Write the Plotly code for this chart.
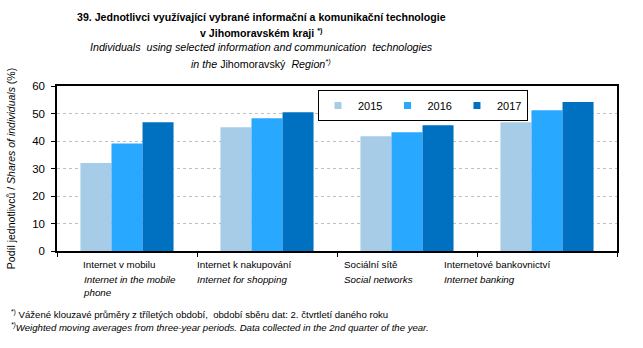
import plotly.graph_objects as go

categories = ["Internet v mobilu", "Internet k nakupování", "Sociální sítě", "Internetové bankovnictví"]
categories_en = ["Internet in the mobile<br>phone", "Internet for shopping", "Social networks", "Internet banking"]
years = ["2015", "2016", "2017"]
v2015 = [32, 45, 41.7, 46.8]
v2016 = [39.1, 48.3, 43.2, 51.2]
v2017 = [46.8, 50.5, 45.7, 54.2]
y_ticks = [0, 10, 20, 30, 40, 50, 60]

colors = ["#A6CCE8", "#29A8FF", "#0070C0"]
FONT = "Liberation Sans, Arial, sans-serif"

fig = go.Figure()
for name, vals, c in zip(years, [v2015, v2016, v2017], colors):
    fig.add_trace(go.Bar(x=categories, y=vals, name=name, showlegend=False, legendgroup=name,
                         marker=dict(color=c, line=dict(width=0))))
# legend entries with small square swatches (linked to the bars)
for name, c in zip(years, colors):
    fig.add_trace(go.Scatter(x=[None], y=[None], mode="markers", name=name, legendgroup=name,
                             marker=dict(symbol="square", size=7, color=c)))

label_shift = [-46, -72, -65, -105]
for cat, en, sh in zip(categories, categories_en, label_shift):
    fig.add_annotation(x=cat, xref="x", y=0, yref="paper", yanchor="top", xanchor="left",
                       xshift=sh, yshift=-6, text=cat, showarrow=False, align="left",
                       font=dict(family=FONT, size=9.8, color="#000"))
    fig.add_annotation(x=cat, xref="x", y=0, yref="paper", yanchor="top", xanchor="left",
                       xshift=sh, yshift=-21, text="<i>" + en + "</i>", showarrow=False, align="left",
                       font=dict(family=FONT, size=9.8, color="#000"))

title_lines = [
    ("<b>39. Jednotlivci využívající vybrané informační a komunikační technologie</b>", 17, 10.6),
    ("<b>v Jihomoravském kraji <sup>*)</sup></b>", 32, 10.6),
    ("<i>Individuals  using selected information and communication  technologies</i>", 47, 10.7),
    ("<i>in the</i> Jihomoravský  <i>Region<sup>*)</sup></i>", 63, 10.7),
]
for txt, ypx, fs in title_lines:
    fig.add_annotation(x=(261 - 57) / 560, xref="paper", y=1 + (86 - ypx) / 165, yref="paper",
                       xanchor="center", yanchor="middle", text=txt, showarrow=False,
                       font=dict(family=FONT, size=fs, color="#000"))

foot = [
    ("<sup>*)</sup> Vážené klouzavé průměry z tříletých období,  období sběru dat: 2. čtvrtletí daného roku", 314),
    ("<i><sup>*)</sup>Weighted moving averages from three-year periods. Data collected in the 2nd quarter of the year.</i>", 327),
]
for txt, ypx in foot:
    fig.add_annotation(x=(9 - 57) / 560, xref="paper", y=(251 - ypx) / 165, yref="paper",
                       xanchor="left", yanchor="middle", text=txt, showarrow=False,
                       font=dict(family=FONT, size=9.6, color="#000"))

fig.update_layout(
    width=643, height=348,
    margin=dict(l=57, r=26, t=86, b=97),
    paper_bgcolor="white", plot_bgcolor="white",
    barmode="group", bargap=0.335, bargroupgap=0,
    font=dict(family=FONT, size=11, color="#000"),
    showlegend=True,
    legend=dict(orientation="h", x=(318 - 57) / 560, y=(251 - 90) / 165, xanchor="left", yanchor="top",
                bordercolor="#000", borderwidth=1, bgcolor="white",
                font=dict(family=FONT, size=11, color="#000"),
                itemwidth=30, tracegroupgap=0),
)
fig.update_xaxes(showticklabels=False, showline=True, linecolor="#000", linewidth=1.5, mirror=True,
                 ticks="outside", tickson="boundaries", ticklen=4, tickcolor="#000", showgrid=False)
fig.update_yaxes(range=[0, 60], tickvals=y_ticks, showline=True, linecolor="#000", linewidth=1.5, mirror=True,
                 ticks="outside", ticklen=4, tickcolor="#000", showgrid=True, gridcolor="#BFBFBF",
                 griddash="dot", gridwidth=1, zeroline=False, ticklabelstandoff=4,
                 tickfont=dict(family=FONT, size=11.5, color="#000"),
                 title=dict(text="Podíl jednotlivců / <i>Shares of individuals</i> (%)", standoff=14,
                            font=dict(family=FONT, size=10.5, color="#000")))

fig.write_html("out.html")
